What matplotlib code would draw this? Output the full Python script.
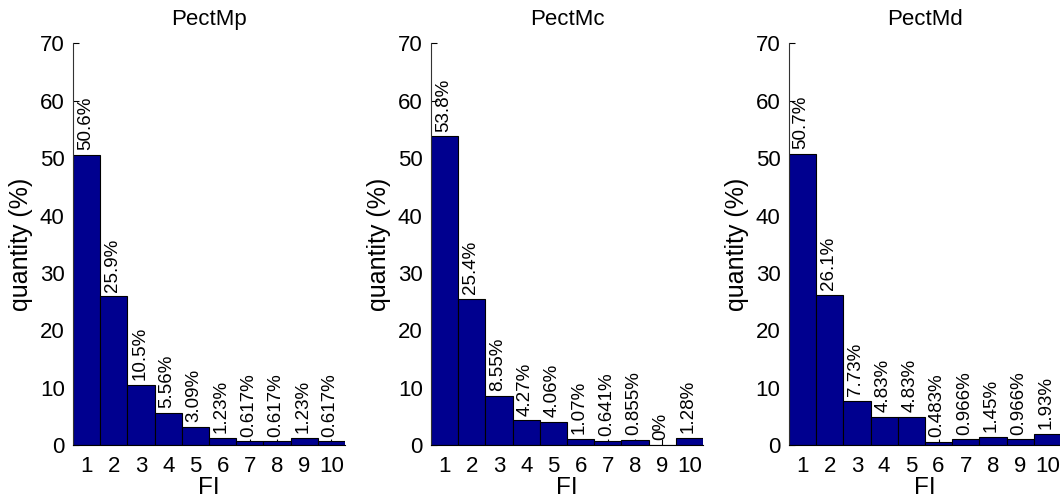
import matplotlib
matplotlib.use("Agg")
import matplotlib.pyplot as plt
import numpy as np

plt.rcParams['font.family'] = ['Liberation Sans', 'DejaVu Sans']

# FI classes and the three distributions (percent)
fi = np.arange(1, 11)
titles = ['PectMp', 'PectMc', 'PectMd']
pect_mp = [50.6, 25.9, 10.5, 5.56, 3.09, 1.23, 0.617, 0.617, 1.23, 0.617]
pect_mc = [53.8, 25.4, 8.55, 4.27, 4.06, 1.07, 0.641, 0.855, 0.0, 1.28]
pect_md = [50.7, 26.1, 7.73, 4.83, 4.83, 0.483, 0.966, 1.45, 0.966, 1.93]
series = [pect_mp, pect_mc, pect_md]

BAR_COLOR = '#00008F'

fig = plt.figure(figsize=(10.6, 5.04), dpi=100)
lefts = [0.0689, 0.4066, 0.7443]

for left, name, vals in zip(lefts, titles, series):
    ax = fig.add_axes([left, 0.1171, 0.2566, 0.7966])
    ax.bar(fi, vals, width=1.0, color=BAR_COLOR, edgecolor='black',
           linewidth=0.8, zorder=2)
    for x, v in zip(fi, vals):
        ax.annotate('%.3g%%' % v, xy=(x, v), xytext=(-1, 3.5),
                    textcoords='offset points', rotation=90,
                    ha='center', va='bottom', fontsize=13.5)

    ax.set_xlim(0.5, 10.5)
    ax.set_ylim(0, 70)
    ax.set_xticks(fi)
    ax.set_yticks(np.arange(0, 71, 10))
    ax.set_axisbelow(True)
    for s in ['top', 'right']:
        ax.spines[s].set_visible(False)
    ax.spines['left'].set_color('#333333')
    ax.spines['bottom'].set_color('black')
    ax.tick_params(direction='in', length=4, width=0.8, labelsize=16)
    ax.tick_params(axis='x', pad=8)
    ax.tick_params(axis='y', pad=6)
    ax.set_title(name, fontsize=16, pad=13)
    ax.set_xlabel('FI', fontsize=17.5, labelpad=0)
    ax.set_ylabel('quantity (%)', fontsize=18, labelpad=5)

fig.savefig('out.png', dpi=100)
